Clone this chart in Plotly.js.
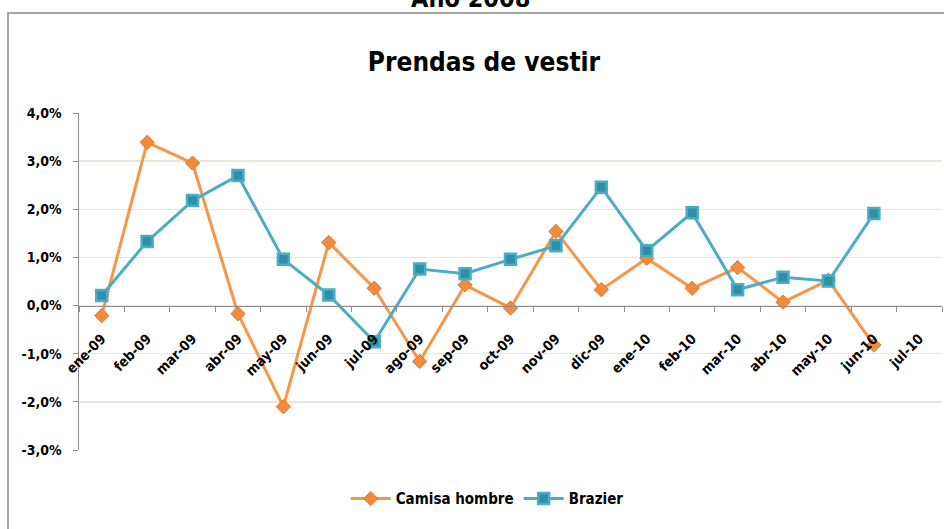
<!DOCTYPE html>
<html>
<head>
<meta charset="utf-8">
<script src="https://cdn.plot.ly/plotly-3.0.1.min.js"></script>
<style>
  html, body { margin: 0; padding: 0; background: #ffffff; overflow: hidden; }
  #frame { position: absolute; left: 7px; top: 12px; width: 960px; height: 540px;
           border-left: 2px solid #a5a5a5; border-top: 2px solid #a5a5a5; }
  #chart { position: absolute; left: 0; top: 0; width: 944px; height: 529px; }
</style>
</head>
<body>
<div id="frame"></div>
<div id="chart"></div>
<script>
const months = ["ene-09","feb-09","mar-09","abr-09","may-09","jun-09","jul-09","ago-09","sep-09","oct-09","nov-09","dic-09",
                "ene-10","feb-10","mar-10","abr-10","may-10","jun-10","jul-10"];
const camisaHombre = [-0.21, 3.39, 2.96, -0.17, -2.10, 1.31, 0.36, -1.16, 0.43, -0.05, 1.54, 0.33,
                      0.98, 0.36, 0.79, 0.07, 0.53, -0.82, null];
const brazier = [0.21, 1.33, 2.18, 2.70, 0.96, 0.22, -0.75, 0.76, 0.66, 0.96, 1.24, 2.46,
                 1.14, 1.93, 0.33, 0.59, 0.51, 1.91, null];
const yTicks = [-3, -2, -1, 0, 1, 2, 3, 4];
const yTickText = yTicks.map(v => "<b>" + v.toFixed(1).replace(".", ",") + "%</b>");
const xTickText = months.map(m => "<b>" + m + "</b>");

const FONT = "'DejaVu Sans Condensed', 'Liberation Sans Narrow', 'Open Sans', sans-serif";

const traces = [
  {
    x: months, y: camisaHombre, name: "<b>Camisa hombre</b>", type: "scatter", mode: "lines+markers",
    line: { color: "#f79646", width: 3 },
    marker: { symbol: "diamond", size: 11, color: "#f48a3a", line: { color: "#e07a2c", width: 1 } },
    connectgaps: false
  },
  {
    x: months, y: brazier, name: "<b>Brazier</b>", type: "scatter", mode: "lines+markers",
    line: { color: "#4bacc6", width: 3 },
    marker: { symbol: "square", size: 11, color: "#2f8fa8", line: { color: "#4bacc6", width: 2.5 } },
    connectgaps: false
  }
];

const layout = {
  width: 944, height: 529,
  margin: { l: 79, r: 2, t: 113, b: 79 },
  paper_bgcolor: "rgba(0,0,0,0)",
  plot_bgcolor: "rgba(0,0,0,0)",
  font: { family: FONT, color: "#000000" },
  title: {
    text: "<b>Prendas de vestir</b>",
    font: { family: FONT, size: 26, color: "#000000" },
    x: 484 / 944, xref: "container", xanchor: "center",
    y: 1 - 62 / 529, yref: "container", yanchor: "middle"
  },
  showlegend: true,
  legend: {
    orientation: "h", x: 0.473, xanchor: "center", y: -0.145, yanchor: "middle",
    font: { family: FONT, size: 15, color: "#000000" },
    itemwidth: 40, traceorder: "normal"
  },
  xaxis: {
    type: "category",
    categoryorder: "array", categoryarray: months,
    tickmode: "array", tickvals: months, ticktext: xTickText,
    range: [-0.5, 18.5],
    anchor: "free", position: 0.4285,
    showline: true, linecolor: "#8c8c8c", linewidth: 1.5,
    showgrid: false, zeroline: false,
    ticks: "outside", ticklen: 5, tickcolor: "#8c8c8c", tickwidth: 1,
    tickson: "boundaries",
    tickangle: -45,
    ticklabelstandoff: 18,
    tickfont: { family: FONT, size: 14, color: "#000000" }
  },
  yaxis: {
    range: [-3, 4],
    tickmode: "array", tickvals: yTicks, ticktext: yTickText,
    showline: true, linecolor: "#8c8c8c", linewidth: 1.5,
    showgrid: true, gridcolor: "#ebe7d8", gridwidth: 1.5,
    zeroline: false,
    ticks: "outside", ticklen: 5, tickcolor: "#8c8c8c",
    ticklabelstandoff: 8,
    tickfont: { family: FONT, size: 14, color: "#000000" }
  },
  annotations: [
    {
      text: "<b>Año 2008</b>", xref: "paper", yref: "paper",
      x: (470 - 79) / 863, y: (450 + 2) / 337, xanchor: "center", yanchor: "middle",
      showarrow: false, font: { family: FONT, size: 25, color: "#000000" }
    }
  ]
};

Plotly.newPlot("chart", traces, layout, { displayModeBar: false, staticPlot: true });
</script>
</body>
</html>
